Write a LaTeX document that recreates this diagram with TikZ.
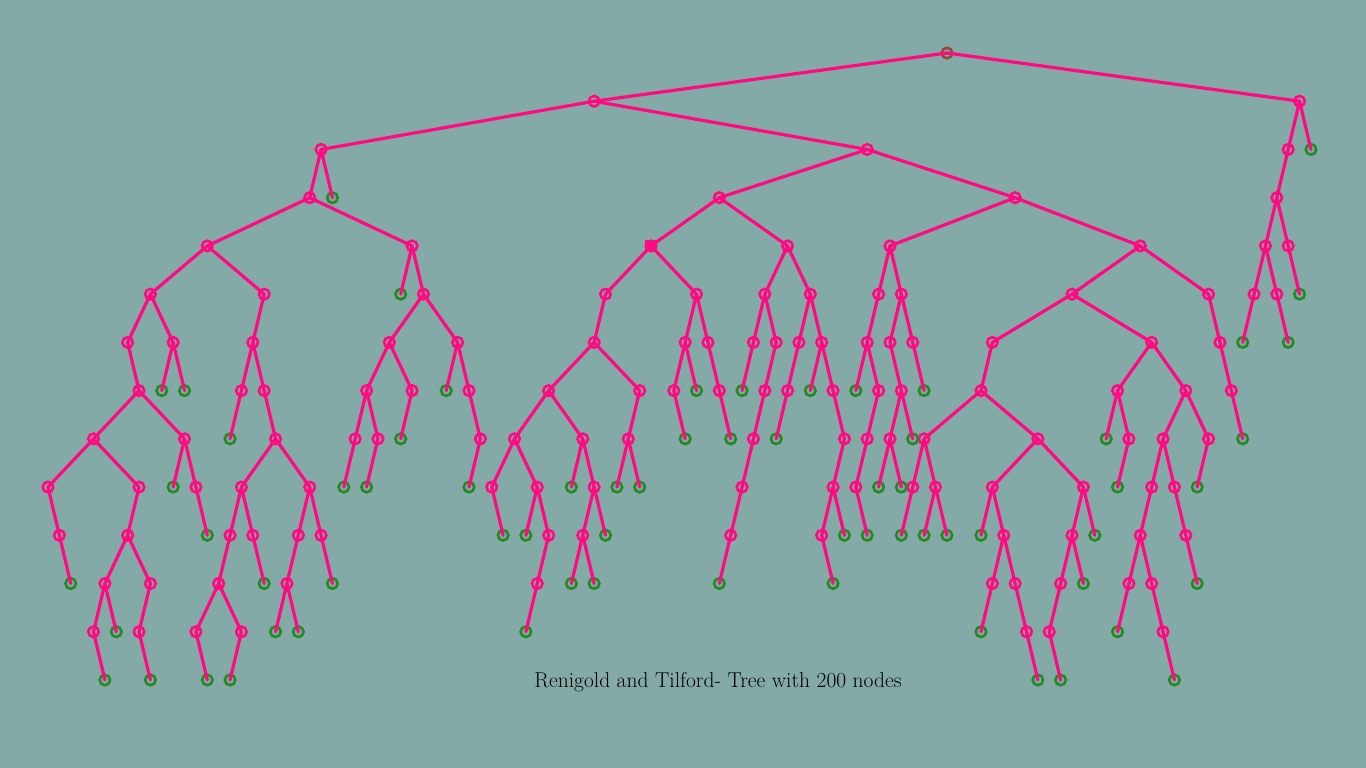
\documentclass[tikz,border=0pt]{standalone}
\usepackage{xcolor}
\usepackage{tikz}
\definecolor{treeBg}{RGB}{132,170,167}
\definecolor{treePink}{RGB}{255,10,128}
\definecolor{treeGreen}{RGB}{34,139,34}
\definecolor{treeRoot}{RGB}{150,72,62}
% k/level/parent-k (parent sits one level up)
\newcommand\treeinner{48/1/79, 110/1/79,
24/2/48, 72/2/48, 109/2/110,
23/3/24, 59/3/72, 85/3/72, 108/3/109,
14/4/23, 32/4/23, 53/4/59, 65/4/59, 74/4/85, 96/4/85, 107/4/108, 109/4/108,
9/5/14, 19/5/14, 33/5/32, 49/5/53, 57/5/53, 63/5/65, 67/5/65, 73/5/74, 75/5/74, 90/5/96, 102/5/96, 106/5/107, 108/5/107,
7/6/9, 11/6/9, 18/6/19, 30/6/33, 36/6/33, 48/6/49, 56/6/57, 58/6/57, 62/6/63, 64/6/63, 66/6/67, 68/6/67, 72/6/73, 74/6/75, 76/6/75, 83/6/90, 97/6/90, 103/6/102,
8/7/7, 17/7/18, 19/7/18, 28/7/30, 32/7/30, 37/7/36, 44/7/48, 52/7/48, 55/7/56, 59/7/58, 63/7/64, 65/7/66, 69/7/68, 73/7/72, 75/7/74, 82/7/83, 94/7/97, 100/7/97, 104/7/103,
4/8/8, 12/8/8, 20/8/19, 27/8/28, 29/8/28, 38/8/37, 41/8/44, 47/8/44, 51/8/52, 62/8/63, 70/8/69, 72/8/73, 74/8/75, 77/8/82, 87/8/82, 95/8/94, 98/8/100, 102/8/100,
0/9/4, 8/9/4, 13/9/12, 17/9/20, 23/9/20, 39/9/41, 43/9/41, 48/9/47, 61/9/62, 69/9/70, 71/9/72, 76/9/77, 78/9/77, 83/9/87, 91/9/87, 97/9/98, 99/9/98,
1/10/0, 7/10/8, 16/10/17, 18/10/17, 22/10/23, 24/10/23, 44/10/43, 47/10/48, 60/10/61, 68/10/69, 84/10/83, 90/10/91, 96/10/97, 100/10/99,
5/11/7, 9/11/7, 15/11/16, 21/11/22, 43/11/44, 83/11/84, 85/11/84, 89/11/90, 95/11/96, 97/11/96,
4/12/5, 8/12/9, 13/12/15, 17/12/15, 86/12/85, 88/12/89, 98/12/97}
\newcommand\treeleaves{111/2/110, 25/3/24, 31/5/32, 110/5/109, 105/6/106, 109/6/108,
10/7/11, 12/7/11, 35/7/36, 57/7/56, 61/7/62, 67/7/68, 71/7/72, 77/7/76,
16/8/17, 31/8/32, 56/8/55, 60/8/59, 64/8/65, 76/8/75, 93/8/94, 105/8/104,
11/9/12, 26/9/27, 28/9/29, 37/9/38, 46/9/47, 50/9/51, 52/9/51, 73/9/74, 75/9/74, 94/9/95, 101/9/102,
14/10/13, 40/10/39, 42/10/43, 49/10/48, 70/10/69, 72/10/71, 75/10/76, 77/10/78, 79/10/78, 82/10/83, 92/10/91,
2/11/1, 19/11/18, 25/11/24, 46/11/47, 48/11/47, 59/11/60, 69/11/68, 91/11/90, 101/11/100,
6/12/5, 20/12/21, 22/12/21, 42/12/43, 82/12/83, 94/12/95,
5/13/4, 9/13/8, 14/13/13, 16/13/17, 87/13/86, 89/13/88, 99/13/98}
\begin{document}
\begin{tikzpicture}[x=1pt,y=-1pt,
  inner/.style={circle,draw=treePink,line width=2.6pt,minimum size=10.5pt,inner sep=0pt},
  leaf/.style={circle,draw=treeGreen,line width=2.6pt,minimum size=10.5pt,inner sep=0pt},
  edge/.style={treePink,line width=3.2pt,line cap=round}]
\fill[treeBg] (0,0) rectangle (1366,768);
\useasboundingbox (0,0) rectangle (1366,768);
\node[inner,draw=treeRoot] (t79-0) at (947,53) {};
\foreach \k/\l/\p in \treeinner
  \node[inner] (t\k-\l) at ({48+11.378*\k},{53+48.23*\l}) {};
\foreach \k/\l/\p in \treeleaves
  \node[leaf] (t\k-\l) at ({48+11.378*\k},{53+48.23*\l}) {};
\fill[treePink] (t53-4.center) ++(-6,-6) rectangle ++(12,12);
% edges, parent to child
\foreach \k/\l/\p in \treeinner {
  \pgfmathtruncatemacro\pl{\l-1}
  \draw[edge] (t\p-\pl.center) -- (t\k-\l.center);
}
\foreach \k/\l/\p in \treeleaves {
  \pgfmathtruncatemacro\pl{\l-1}
  \draw[edge] (t\p-\pl.center) -- (t\k-\l.center);
}
\node[text=black,font=\fontsize{21.5}{24}\selectfont] (cap) at (718,682) {Renigold and Tilford- Tree with 200 nodes};
\end{tikzpicture}
\end{document}
